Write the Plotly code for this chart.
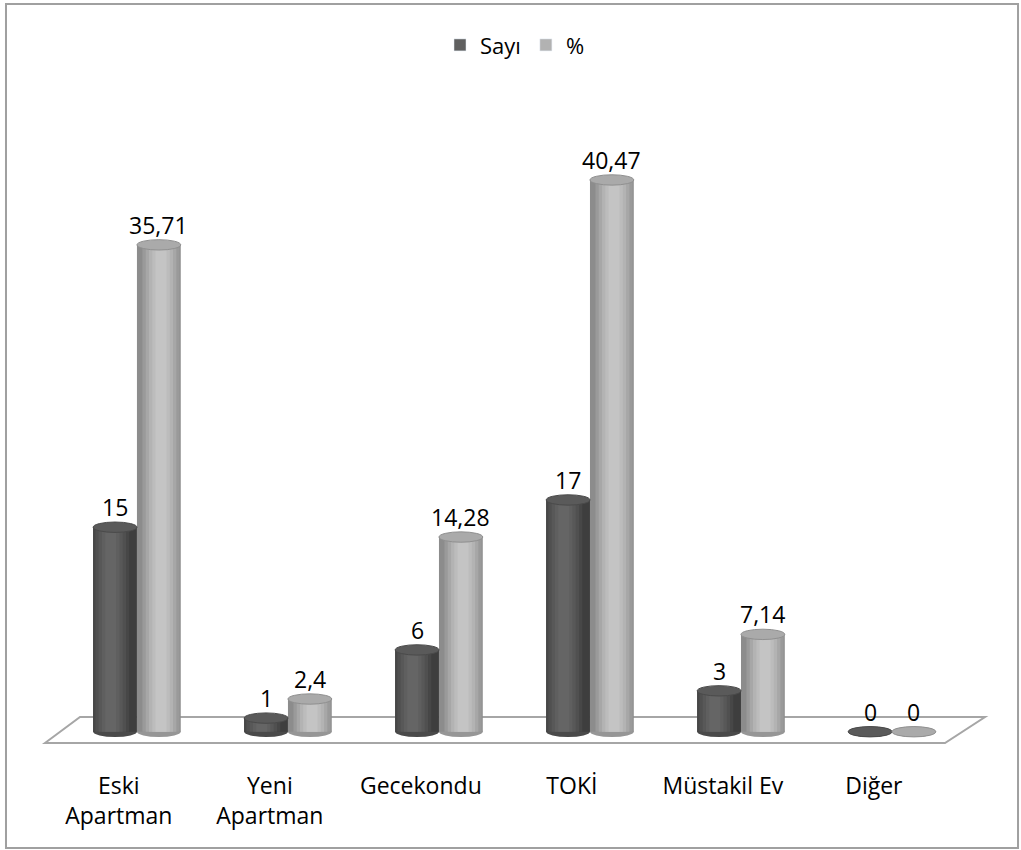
import plotly.graph_objects as go

# ---- data ----
categories = ["Eski<br>Apartman", "Yeni<br>Apartman", "Gecekondu", "TOKİ", "Müstakil Ev", "Diğer"]
sayi = [15, 1, 6, 17, 3, 0]
yuzde = [35.71, 2.4, 14.28, 40.47, 7.14, 0]
sayi_labels = ["15", "1", "6", "17", "3", "0"]
yuzde_labels = ["35,71", "2,4", "14,28", "40,47", "7,14", "0"]
series_names = ["Sayı", "%"]

# ---- style ----
FONT = "Open Sans"
W = 0.29            # cylinder width in x units
CAP = 0.38          # half-height of cylinder ellipse in y units
xpos = list(range(len(categories)))

styles = [
    dict(offset=-W, hl=0.40,
         shades=["#3e3e3e", "#474747", "#505050", "#585858", "#5f5f5f", "#656565"],
         cap="#5a5a5a", capline="#4a4a4a", bottom="#4a4a4a", legend="#606060"),
    dict(offset=0.0, hl=0.55,
         shades=["#8c8c8c", "#9a9a9a", "#a7a7a7", "#b3b3b3", "#bcbcbc", "#c4c4c4"],
         cap="#aaaaaa", capline="#909090", bottom="#969696", legend="#b2b2b2"),
]
fracs = [1.0, 0.85, 0.70, 0.55, 0.40, 0.25]

fig = go.Figure()
shapes = []

# floor (3D base plate)
shapes.append(dict(type="path", xref="x", yref="y", layer="below",
                   path="M -0.609,-0.83 L -0.377,1.08 L 5.616,1.08 L 5.351,-0.83 Z",
                   line=dict(color="#a6a6a6", width=2), fillcolor="white"))

for vals, st in zip([sayi, yuzde], styles):
    # shaded cylinder bodies
    for k, (f, col) in enumerate(zip(fracs, st["shades"])):
        if k == 0:
            left, right = st["offset"], st["offset"] + W
        else:
            c = st["offset"] + st["hl"] * W
            left = max(st["offset"], c - f * W / 2)
            right = min(st["offset"] + W, c + f * W / 2)
        fig.add_trace(go.Bar(
            x=xpos, y=vals, width=[right - left] * len(xpos), offset=left,
            marker=dict(color=col, line=dict(width=0)),
            showlegend=False, hoverinfo="skip"))
    for xi, v in zip(xpos, vals):
        x0 = xi + st["offset"]
        x1 = x0 + W
        shapes.append(dict(type="circle", xref="x", yref="y", layer="below",
                           x0=x0, x1=x1, y0=-CAP, y1=CAP,
                           fillcolor=st["bottom"], line=dict(width=0)))
        shapes.append(dict(type="circle", xref="x", yref="y", layer="above",
                           x0=x0, x1=x1, y0=v - CAP, y1=v + CAP,
                           fillcolor=st["cap"], line=dict(color=st["capline"], width=1)))

# legend entries
for name, st in zip(series_names, styles):
    fig.add_trace(go.Bar(x=[None], y=[None], name=name,
                         marker=dict(color=st["legend"])))

# value labels
annotations = []
for vals, labels, st in zip([sayi, yuzde], [sayi_labels, yuzde_labels], styles):
    for xi, v, t in zip(xpos, vals, labels):
        annotations.append(dict(x=xi + st["offset"] + W / 2, y=v, xref="x", yref="y",
                                text=t, showarrow=False, yanchor="middle", yshift=20,
                                font=dict(family=FONT, size=23, color="black")))

# outer border
shapes.append(dict(type="rect", xref="paper", yref="paper",
                   x0=-0.0358, x1=1.0295, y0=-0.1404, y1=1.191,
                   line=dict(color="#a0a0a0", width=2)))

fig.update_layout(
    width=1021, height=850,
    margin=dict(l=40, r=31, t=125, b=91),
    paper_bgcolor="white", plot_bgcolor="white",
    barmode="overlay",
    shapes=shapes, annotations=annotations,
    font=dict(family=FONT, size=23, color="black"),
    legend=dict(orientation="h", x=0.5, xanchor="center", y=1.126, yanchor="middle",
                font=dict(family=FONT, size=22), itemclick=False),
    xaxis=dict(range=[-0.642, 5.649], tickmode="array",
               tickvals=[x - 0.12 for x in xpos], ticktext=categories,
               showgrid=False, zeroline=False, showline=False, ticks="",
               ticklabelstandoff=11, tickfont=dict(family=FONT, size=23)),
    yaxis=dict(range=[-2, 44.5], visible=False, showgrid=False, zeroline=False),
)

fig.write_html("out.html", config={"displayModeBar": False},
               post_script="document.body.style.margin='0';")
